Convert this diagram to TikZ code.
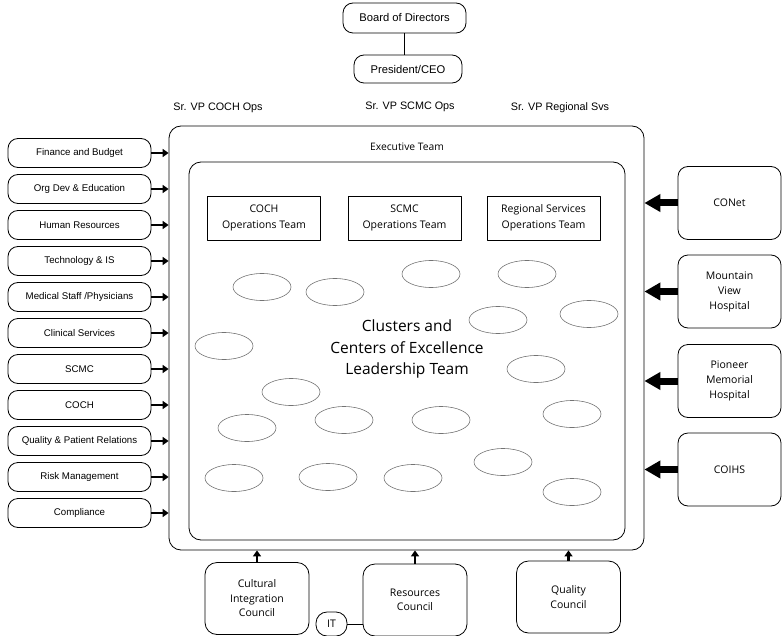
\documentclass[tikz,border=0pt]{standalone}
\usepackage{fontspec}
\setmainfont{Liberation Sans}
\newfontfamily\myriad{Open Sans}
\usetikzlibrary{arrows.meta,shapes.geometric}
\begin{document}
\begin{tikzpicture}[yscale=-1,x=1pt,y=1pt,every path/.style={join=round},
    box/.style={draw,line width=0.8pt,inner sep=0pt,align=center},
    dept/.style={box,rounded corners=10pt,minimum width=143pt,minimum height=29pt,font=\fontsize{9.7}{11}\selectfont},
    site/.style={box,rounded corners=10pt,minimum width=103pt,minimum height=73pt,font=\myriad\fontsize{10.5}{15}\selectfont},
    council/.style={box,rounded corners=12pt,minimum width=104pt,minimum height=72pt,font=\myriad\fontsize{10.5}{14.5}\selectfont},
    team/.style={box,minimum width=113pt,minimum height=44pt,font=\myriad\fontsize{10.5}{16}\selectfont},
    cluster/.style={draw=black!55,line width=0.6pt,ellipse,minimum width=58pt,minimum height=27pt,inner sep=0pt},
    top/.style={box,rounded corners=10pt,font=\fontsize{11.2}{13}\selectfont},
    vp/.style={font=\fontsize{10.8}{12}\selectfont,inner sep=0pt},
    feed/.style={line width=2.5pt,-{Triangle[length=6pt,width=8pt]}},
    bigfeed/.style={line width=7pt,-{Triangle[length=16pt,width=17pt]}}]
  \useasboundingbox (0,0) rectangle (783,636);
  % top of the chart
  \node[top,minimum width=123pt,minimum height=30pt] (board) at (404.5,18) {Board of Directors};
  \node[top,minimum width=108pt,minimum height=28pt] (ceo) at (408,69) {President/CEO};
  \draw[line width=0.8pt] (board.south) -- (board.south |- ceo.north);
  \node[vp] (vpcoch) at (218,108) {Sr. VP COCH Ops};
  \node[vp] (vpscmc) at (410,107) {Sr. VP SCMC Ops};
  \node[vp] (vpreg) at (560,108) {Sr. VP Regional Svs};
  % executive team and clusters
  \node[box,rounded corners=12pt,minimum width=475pt,minimum height=424pt] (exec) at (406.5,338) {};
  \node[inner sep=0pt,font=\myriad\fontsize{10.3}{12}\selectfont] (execlbl) at (407,147) {Executive Team};
  \node[box,rounded corners=12pt,minimum width=436pt,minimum height=378pt] (clusters) at (407,351) {};
  \node[team] (tcoch) at (264,218) {COCH\\Operations Team};
  \node[team] (tscmc) at (404.5,218) {SCMC\\Operations Team};
  \node[team] (treg) at (543.5,218) {Regional Services\\Operations Team};
  \node[align=center,inner sep=0pt,font=\myriad\fontsize{15.5}{21.5}\selectfont] (cluslbl) at (407,349) {Clusters and\\Centers of Excellence\\Leadership Team};
  \foreach \x/\y [count=\k] in {262/287,335/292,431/274,527/274,498/320,589/314,
      224/346,291/392,536/369,247/428,344/420,441/420,572/414,
      234/478,328/477,413/478,503/462,572/492}
    \node[cluster] (cl\k) at (\x,\y) {};
  % support departments
  \foreach \lbl [count=\i] in {Finance and Budget,Org Dev \& Education,Human Resources,
      Technology \& IS,Medical Staff /Physicians,Clinical Services,SCMC,COCH,
      Quality \& Patient Relations,Risk Management,Compliance}{
    \node[dept] (d\i) at (79.5,{117+36*\i}) {\lbl};
    \draw[feed] (d\i.east) -- (d\i.east -| exec.west);
  }
  % hospitals
  \node[site] (conet) at (729.5,203) {CONet};
  \node[site] (mvh) at (729.5,291.5) {Mountain\\View\\Hospital};
  \node[site] (pmh) at (729.5,381) {Pioneer\\Memorial\\Hospital};
  \node[site] (coihs) at (729.5,469.5) {COIHS};
  \foreach \s in {conet,mvh,pmh,coihs}
    \draw[bigfeed] (\s.west) -- (\s.west -| exec.east);
  % councils
  \node[council] (cic) at (257,598.5) {Cultural\\Integration\\Council};
  \node[council] (rc) at (415,600) {Resources\\Council};
  \node[council] (qc) at (568.5,597) {Quality\\Council};
  \foreach \c in {cic,rc,qc}
    \draw[feed] (\c.north) -- (\c.north |- exec.south);
  \node[box,rounded corners=11pt,minimum width=31pt,minimum height=24pt,font=\myriad\fontsize{10.5}{12}\selectfont] (it) at (331.5,624) {IT};
  \draw[line width=0.8pt] (it.east) -- (it.east -| rc.west);
\end{tikzpicture}
\end{document}
